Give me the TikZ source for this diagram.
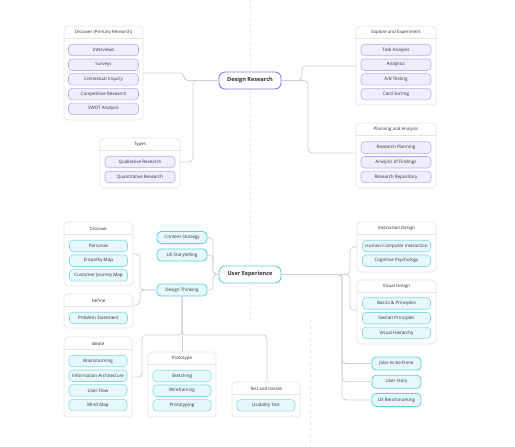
\documentclass[tikz,border=0pt]{standalone}
\usepackage{fontspec}
\setsansfont{Open Sans}
\definecolor{ink}{HTML}{2E2F35}
\definecolor{wire}{HTML}{CDD0D8}
\definecolor{frame}{HTML}{E2E3E8}
\definecolor{purpleline}{HTML}{8C78EE}
\definecolor{purpleitem}{HTML}{F0EDFE}
\definecolor{purpleedge}{HTML}{BBABF8}
\definecolor{cyanline}{HTML}{5DCFDD}
\definecolor{cyanitem}{HTML}{E6F8FB}
\definecolor{cyanedge}{HTML}{80DBE7}
\begin{document}
\begin{tikzpicture}[x=1pt,y=-1pt,
 font=\sffamily, text=ink,
 link/.style={draw=wire,line width=0.8pt,rounded corners=4pt},
 group/.style={draw=frame,fill=white,line width=0.6pt,rounded corners=4pt,inner sep=0pt},
 ghead/.style={font=\sffamily\fontsize{4.4}{5}\selectfont,inner sep=0pt},
 sep/.style={draw=frame,line width=0.6pt},
 ritem/.style={draw=purpleedge,fill=purpleitem,line width=0.6pt,rounded corners=3.5pt,minimum width=70pt,minimum height=11.5pt,inner sep=0pt,font=\sffamily\fontsize{4.5}{5}\selectfont},
 uitem/.style={draw=cyanedge,fill=cyanitem,line width=0.6pt,rounded corners=3.5pt,minimum width=58pt,minimum height=11.5pt,inner sep=0pt,font=\sffamily\fontsize{4.5}{5}\selectfont},
 rroot/.style={draw=purpleline,fill=white,line width=0.9pt,rounded corners=6pt,minimum width=62pt,minimum height=17pt,inner sep=0pt,font=\sffamily\bfseries\fontsize{5.6}{6}\selectfont},
 uroot/.style={draw=cyanline,fill=white,line width=0.9pt,rounded corners=6pt,minimum width=62pt,minimum height=17pt,inner sep=0pt,font=\sffamily\bfseries\fontsize{5.6}{6}\selectfont},
 ubranch/.style={draw=cyanline,fill=cyanitem,line width=0.8pt,rounded corners=4pt,minimum width=50pt,minimum height=12pt,inner sep=0pt,font=\sffamily\fontsize{4.5}{5}\selectfont}]
 \useasboundingbox[fill=white] (0,0) rectangle (515,447);
 \draw[gray!18,dashed,line width=0.4pt] (250,0) -- (250,320);
 \draw[gray!18,dashed,line width=0.4pt] (310,320) -- (310,447);

 \node[rroot] (dr) at (250,80.5) {Design Research};
 \node[uroot] (ux) at (250,274.5) {User Experience};

 \node[group,minimum width=79pt,minimum height=94pt] (gdisc) at (103.5,73) {};
 \node[group,minimum width=80pt,minimum height=50pt] (gtypes) at (140,163) {};
 \node[group,minimum width=80pt,minimum height=79pt] (gexpl) at (396,65.5) {};
 \node[group,minimum width=80pt,minimum height=65pt] (gplan) at (396,155.5) {};
 \node[group,minimum width=69pt,minimum height=64pt] (gudisc) at (98.5,254) {};
 \node[group,minimum width=69pt,minimum height=34pt] (gdef) at (98.5,311) {};
 \node[group,minimum width=68pt,minimum height=80pt] (gidea) at (98,377) {};
 \node[group,minimum width=68pt,minimum height=65pt] (gproto) at (182,384.5) {};
 \node[group,minimum width=68pt,minimum height=35pt] (gtest) at (266,399.5) {};
 \node[group,minimum width=79pt,minimum height=50pt] (ginter) at (396.5,247) {};
 \node[group,minimum width=79pt,minimum height=64pt] (gvis) at (396.5,312) {};

 \foreach \g in {gdisc,gtypes,gexpl,gplan,gudisc,gdef,gidea,gproto,gtest,ginter,gvis}
  \draw[sep] ([yshift=-13pt]\g.north west) -- ([yshift=-13pt]\g.north east);

 \node[ghead] (hdisc) at (103.5,32.5) {Discover (Primary Research)};
 \node[ghead] (htypes) at (140,144.5) {Types};
 \node[ghead] (hexpl) at (396,32.5) {Explore and Experiment};
 \node[ghead] (hplan) at (396,129.5) {Planning and Analysis};
 \node[ghead] (hudisc) at (98.5,228.5) {Discover};
 \node[ghead] (hdef) at (98.5,300.5) {Define};
 \node[ghead] (hidea) at (98,343.5) {Ideate};
 \node[ghead] (hproto) at (182,358.5) {Prototype};
 \node[ghead] (htest) at (266,388.5) {Test and Iterate};
 \node[ghead] (hinter) at (396.5,228.5) {Interaction Design};
 \node[ghead] (hvis) at (396.5,286.5) {Visual Design};

 \node[ritem] (interviews) at (103.5,50) {Interviews};
 \node[ritem] (surveys) at (103.5,64.7) {Surveys};
 \node[ritem] (inquiry) at (103.5,79.4) {Contextual Inquiry};
 \node[ritem] (competitive) at (103.5,94.1) {Competitive Research};
 \node[ritem] (swot) at (103.5,108.8) {SWOT Analysis};
 \node[ritem] (quali) at (140,162) {Qualitative Research};
 \node[ritem] (quanti) at (140,177) {Quantitative Research};
 \node[ritem] (task) at (396,50) {Task Analysis};
 \node[ritem] (analytics) at (396,64.7) {Analytics};
 \node[ritem] (abtest) at (396,79.4) {A/B Testing};
 \node[ritem] (cards) at (396,94.1) {Card Sorting};
 \node[ritem] (planning) at (396,147.5) {Research Planning};
 \node[ritem] (findings) at (396,162.2) {Analysis of Findings};
 \node[ritem] (repo) at (396,176.9) {Research Repository};

 \node[ubranch] (content) at (182,237.5) {Content Strategy};
 \node[ubranch] (story) at (182,255) {UX Storytelling};
 \node[ubranch] (thinking) at (182,290) {Design Thinking};
 \node[uitem] (personas) at (98.5,246) {Personas};
 \node[uitem] (empathy) at (98.5,260.7) {Empathy Map};
 \node[uitem] (journey) at (98.5,275.4) {Customer Journey Map};
 \node[uitem] (problem) at (98.5,318) {Problem Statement};
 \node[uitem] (brain) at (98,361) {Brainstorming};
 \node[uitem] (infoarch) at (98,375.7) {Information Architecture};
 \node[uitem] (flow) at (98,390.4) {User Flow};
 \node[uitem] (mind) at (98,405.1) {Mind Map};
 \node[uitem] (sketch) at (182,376) {Sketching};
 \node[uitem] (wire) at (182,390.7) {Wireframing};
 \node[uitem] (prototyping) at (182,405.4) {Prototyping};
 \node[uitem] (usability) at (266,405.4) {Usability Test};
 \node[uitem,minimum width=68pt] (hci) at (396.5,246) {Human-Computer Interaction};
 \node[uitem,minimum width=68pt] (cognitive) at (396.5,260.7) {Cognitive Psychology};
 \node[uitem,minimum width=68pt] (basics) at (396.5,303.5) {Basics \& Principles};
 \node[uitem,minimum width=68pt] (gestalt) at (396.5,318.2) {Gestalt Principles};
 \node[uitem,minimum width=68pt] (hierarchy) at (396.5,332.9) {Visual Hierarchy};
 \node[ubranch,minimum width=49pt,minimum height=13pt] (jobs) at (396.5,363.5) {Jobs-to-be-Done};
 \node[ubranch,minimum width=49pt,minimum height=13pt] (userstory) at (396.5,381.7) {User Story};
 \node[ubranch,minimum width=49pt,minimum height=13pt] (bench) at (396.5,399.9) {UX Benchmarking};

 \draw[link] (gdisc.east |- 0,73) -- (184,73) -- (184,80.5) -- (dr.west);
 \draw[link] (dr.west) -- (193,80.5) -- (193,162) -- (gtypes.east |- 0,162);
 \draw[link] (dr.east) -- (302,80.5) -- (302,66) -- (gexpl.west |- 0,66);
 \draw[link] (dr.east) -- (308,80.5) -- (308,153) -- (gplan.west |- 0,153);

 \draw[link] (content.east) -- (213,237.5) -- (213,274.5) -- (ux.west);
 \draw[link] (story.east) -- (213,255) -- (213,274.5) -- (ux.west);
 \draw[link] (thinking.east) -- (213,290) -- (213,274.5) -- (ux.west);
 \draw[link] (thinking.west) -- (140,290) -- (140,254) -- (gudisc.east |- 0,254);
 \draw[link] (thinking.west) -- (140,290) -- (140,305) -- (gdef.east |- 0,305);
 \draw[link] (thinking.south) -- (gproto.north);
 \draw[link] (thinking.south) -- (182,335) -- (142,335) -- (142,377) -- (gidea.east |- 0,377);
 \draw[link] (thinking.south) -- (182,335) -- (267,335) -- (gtest.north -| 267,0);
 \draw[link] (ux.east) -- (350,274.5) -- (350,247) -- (ginter.west |- 0,247);
 \draw[link] (ux.east) -- (350,274.5) -- (350,310) -- (gvis.west |- 0,310);
 \draw[link] (ux.east) -- (342,274.5) -- (342,363.5) -- (jobs.west);
 \draw[link] (ux.east) -- (342,274.5) -- (342,381.7) -- (userstory.west);
 \draw[link] (ux.east) -- (342,274.5) -- (342,399.9) -- (bench.west);
\end{tikzpicture}
\end{document}
